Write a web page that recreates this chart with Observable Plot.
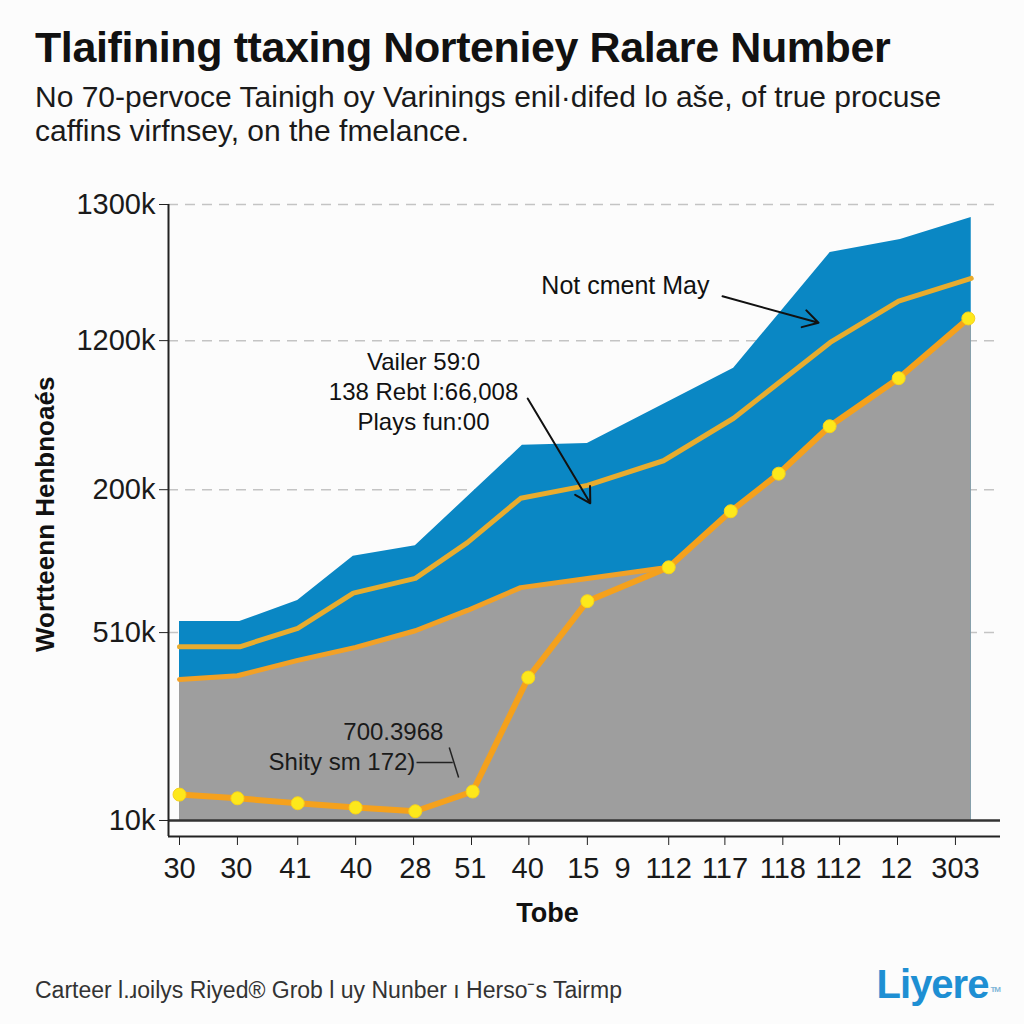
<!DOCTYPE html>
<html>
<head>
<meta charset="utf-8">
<script src="https://cdn.jsdelivr.net/npm/d3@7"></script>
<script src="https://cdn.jsdelivr.net/npm/@observablehq/plot@0.6"></script>
<style>
  html, body { margin: 0; padding: 0; }
  body { width: 1024px; height: 1024px; position: relative; overflow: hidden; background: #fcfcfc;
         font-family: "Liberation Sans", Arial, sans-serif; color: #111; }
  #title { position: absolute; left: 35px; top: 26px; font-size: 43px; line-height: 43px; font-weight: bold; letter-spacing: -0.4px; white-space: nowrap; }
  #subtitle { position: absolute; left: 35px; top: 80px; font-size: 30px; line-height: 34px; white-space: nowrap; color: #1a1a1a; }
  #chart { position: absolute; left: 0; top: 175px; }
  #footer { position: absolute; left: 35px; top: 976px; font-size: 23px; line-height: 28px; color: #333; white-space: nowrap; }
  #logo { position: absolute; right: 24px; top: 962px; font-size: 40px; line-height: 44px; font-weight: bold; color: #1e8fd3; letter-spacing: -1px; }
  #logo sup { font-size: 8px; vertical-align: top; position: relative; top: 6px; margin-left: 2px; color: #7fb6d8; }
</style>
</head>
<body>
<div id="title">Tlaifining ttaxing Norteniey Ralare Number</div>
<div id="subtitle">No 70-pervoce Tainigh oy Varinings enil·difed lo aše, of true procuse<br>caffins virfnsey, on the fmelance.</div>
<div id="chart"></div>
<div id="footer">Carteer l.ɹoilys Riyed® Grob l uy Nunber ı Herso⁻s Tairmp</div>
<div id="logo">Liyere<sup>TM</sup></div>
<script>
// ---- tick labels ----
const xLabels   = ["30","30","41","40","28","51","40","15","9","112","117","118","112","12","303"];
const xLabelPos = [0, 0.97, 1.98, 3.02, 4.03, 4.97, 5.95, 6.9, 7.57, 8.36, 9.32, 10.31, 11.26, 12.25, 13.26];
const xTickPos  = [0, 0.99, 2.02, 3.01, 4.0, 4.99, 5.97, 6.97, 8.36, 9.32, 10.31, 11.28, 12.27, 13.26];
const yTickLabels = ["10k","510k","200k","1200k","1300k"];
const yTickPos    = [0, 30.5, 53.7, 77.9, 100];

// ---- series ----
const blueX = [0, 1.03, 2.02, 2.97, 4.03, 5.86, 6.97, 9.47, 11.12, 12.32, 13.53];
const blueY = [32.3, 32.3, 35.7, 42.9, 44.6, 60.9, 61.2, 73.4, 92.2, 94.3, 97.9];

const grayX = [0, 0.99, 2.02, 3.01, 4.03, 4.92, 5.83, 6.97, 8.36, 9.42, 10.24, 11.11, 12.29, 13.53];
const grayY = [22.9, 23.5, 26.0, 28.1, 30.8, 34.1, 37.8, 39.3, 41.1, 50.2, 56.3, 64.0, 71.8, 81.8];

const upperX = [0, 1.03, 2.02, 2.97, 4.03, 4.92, 5.83, 6.97, 8.27, 9.47, 11.12, 12.29, 13.53];
const upperY = [28.2, 28.2, 31.2, 36.9, 39.3, 45.1, 52.3, 54.4, 58.4, 65.3, 77.6, 84.3, 88.0];

const lowerX = [0, 0.99, 2.02, 3.01, 4.03, 4.92, 5.83, 6.97, 8.36];
const lowerY = [22.9, 23.5, 26.0, 28.1, 30.8, 34.1, 37.8, 39.3, 41.1];

const dotX = [0, 0.99, 2.02, 3.01, 4.03, 5.01, 5.96, 6.97, 8.36, 9.42, 10.24, 11.11, 12.29, 13.48];
const dotY = [4.2, 3.6, 2.8, 2.1, 1.5, 4.7, 23.2, 35.6, 41.1, 50.2, 56.3, 64.0, 71.8, 81.5];

// ---- annotations ----
const noteMay   = "Not cment May";
const noteMid   = "Vailer 59:0\n138 Rebt l:66,008\nPlays fun:00";
const noteLow1  = "700.3968";
const noteLow2  = "Shity sm 172)";
const xAxisLabel = "Tobe";
const yAxisLabel = "Wortteenn Henbnoaés";

const rows = (xs, ys) => xs.map((x, i) => ({x, y: ys[i]}));
const blue = rows(blueX, blueY);
const gray = rows(grayX, grayY);
const upper = rows(upperX, upperY);
const lower = rows(lowerX, lowerY);
const dots = rows(dotX, dotY);

const xDomain = [-0.188, 14.03];
const yDomain = [-2.6, 100];
const xLabelMap = new Map(xLabelPos.map((v, i) => [v, xLabels[i]]));
const yLabelMap = new Map(yTickPos.map((v, i) => [v, yTickLabels[i]]));

const arrows = [
  {x1: 9.28, y1: 85.1, x2: 10.92, y2: 80.8},
  {x1: 5.95, y1: 68.5, x2: 7.02, y2: 51.5}
];
const connectors = [
  {x1: 4.05, y1: 9.4, x2: 4.67, y2: 9.4},
  {x1: 4.61, y1: 11.85, x2: 4.77, y2: 6.98}
];

const chart = Plot.plot({
  width: 1024,
  height: 760,
  marginLeft: 168,
  marginRight: 24,
  marginTop: 29,
  marginBottom: 99,
  style: {fontFamily: "'Liberation Sans', Arial, sans-serif", background: "transparent", color: "#1a1a1a", overflow: "visible"},
  x: {domain: xDomain, axis: null},
  y: {domain: yDomain, axis: null},
  marks: [
    Plot.gridY(yTickPos.filter(d => d > 0), {stroke: "#c4c4c4", strokeOpacity: 1, strokeWidth: 1.5, strokeDasharray: "10,7"}),
    Plot.areaY(blue, {x: "x", y: "y", fill: "#0a87c4"}),
    Plot.areaY(gray, {x: "x", y: "y", fill: "#9e9e9e"}),
    Plot.line(upper, {x: "x", y: "y", stroke: "#e8ac2e", strokeWidth: 5}),
    Plot.line(lower, {x: "x", y: "y", stroke: "#f2a126", strokeWidth: 5}),
    Plot.line(dots, {x: "x", y: "y", stroke: "#f5a11c", strokeWidth: 6}),
    Plot.dot(dots, {x: "x", y: "y", r: 6.5, fill: "#fde81b", stroke: "#f8d21a", strokeWidth: 1}),
    Plot.ruleY([0], {stroke: "#333", strokeWidth: 2.5}),
    Plot.ruleY([yDomain[0]], {stroke: "#222", strokeWidth: 2}),
    Plot.ruleX([xDomain[0]], {y1: yDomain[0], y2: yTickPos[yTickPos.length - 1], stroke: "#222", strokeWidth: 2}),
    Plot.axisY({ticks: yTickPos, tickFormat: d => yLabelMap.get(d), tickSize: 9, tickPadding: 4, fontSize: 29, label: null, stroke: "#222"}),
    Plot.axisX({ticks: xTickPos, tickFormat: () => "", tickSize: 9, label: null, stroke: "#222"}),
    Plot.axisX({ticks: xLabelPos, tickFormat: d => xLabelMap.get(d), tickSize: 0, tickPadding: 21, fontSize: 29, label: null}),
    Plot.text([xAxisLabel], {x: 6.29, frameAnchor: "bottom", dy: 85, fontSize: 27, fontWeight: "bold", fill: "#111"}),
    Plot.text([yAxisLabel], {y: 49.7, frameAnchor: "left", textAnchor: "middle", dx: -123, rotate: -90, fontSize: 26, fontWeight: "bold", fill: "#111"}),
    Plot.text([noteMay], {x: 7.62, y: 86.7, fontSize: 25, fill: "#111"}),
    Plot.text([noteMid], {x: 4.17, y: 69.8, fontSize: 24, lineHeight: 1.25, fill: "#111"}),
    Plot.text([noteLow1], {x: 4.51, y: 14.3, fontSize: 24, textAnchor: "end", fill: "#1a1a1a"}),
    Plot.text([noteLow2], {x: 4.03, y: 9.4, fontSize: 24, textAnchor: "end", fill: "#1a1a1a"}),
    Plot.link(connectors, {x1: "x1", y1: "y1", x2: "x2", y2: "y2", stroke: "#222", strokeWidth: 1.5}),
    Plot.arrow(arrows, {x1: "x1", y1: "y1", x2: "x2", y2: "y2", stroke: "#111", strokeWidth: 2, headLength: 13})
  ]
});
document.getElementById("chart").appendChild(chart);
</script>
</body>
</html>
